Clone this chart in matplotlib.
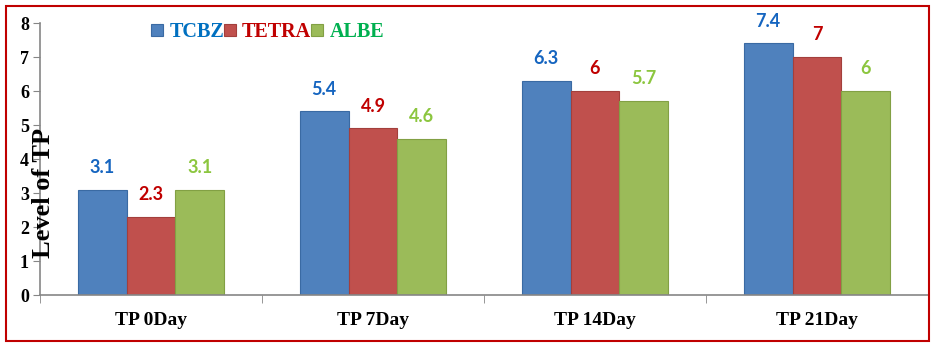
import matplotlib.pyplot as plt
from matplotlib.patches import Rectangle
import numpy as np

days = ['TP 0Day', 'TP 7Day', 'TP 14Day', 'TP 21Day']
tcbz = [3.1, 5.4, 6.3, 7.4]
tetra = [2.3, 4.9, 6, 7]
albe = [3.1, 4.6, 5.7, 6]
series = ['TCBZ', 'TETRA', 'ALBE']

bar_cols = ['#4F81BD', '#C0504D', '#9BBB59']
edge_cols = ['#3A6AA3', '#A33F3C', '#82A044']
txt_cols = ['#1565C0', '#C00000', '#8CC63F']
leg_cols = ['#0070C0', '#C00000', '#00B050']

fig = plt.figure(figsize=(9.35, 3.46), dpi=100)
ax = fig.add_axes([40/935, 1-295/346, 888/935, 272/346])

x = np.arange(len(days))
w = 0.22
data = [tcbz, tetra, albe]
for i in range(3):
    pos = x + (i-1)*w
    ax.bar(pos, data[i], w, color=bar_cols[i], edgecolor=edge_cols[i],
           linewidth=0.8, label=series[i])
    for p, v in zip(pos, data[i]):
        ax.annotate('%g' % v, (p, v), xytext=(0, 10), textcoords='offset points',
                    ha='center', va='bottom', color=txt_cols[i],
                    fontsize=13, fontweight='bold', family='Lato')

ax.set_xlim(-0.5, 3.5)
ax.set_ylim(0, 8)
ax.set_yticks(range(9))
ax.set_xticks(x)
ax.set_xticklabels(days, family='Liberation Serif', fontweight='bold', fontsize=14)
ax.set_xticks(np.arange(-0.5, 3.6, 1), minor=True)
ax.tick_params(axis='x', which='major', length=0, pad=12)
ax.tick_params(axis='x', which='minor', length=6, color='#868686', direction='out')
ax.tick_params(axis='y', length=5, color='#868686', pad=3)
for lab in ax.get_yticklabels():
    lab.set_family('Liberation Serif')
    lab.set_fontweight('bold')
    lab.set_fontsize(13)
for s in ['top', 'right']:
    ax.spines[s].set_visible(False)
for s in ['left', 'bottom']:
    ax.spines[s].set_color('#868686')
    ax.spines[s].set_linewidth(1.2)

fig.text(43/935, 1-193/346, 'Level of TP', rotation=90, ha='center', va='center',
         family='Liberation Serif', fontweight='bold', fontsize=19)

leg = fig.legend(loc='center left', bbox_to_anchor=(133/935, 1-32/346), ncol=3,
                 frameon=False, handlelength=0.6, handleheight=0.6,
                 handletextpad=0.3, columnspacing=0.0,
                 prop={'family': 'Liberation Serif', 'weight': 'bold', 'size': 14.5})
for t, c in zip(leg.get_texts(), leg_cols):
    t.set_color(c)

fig.patches.append(Rectangle((6/935, 5/346), 923/935, 335/346, fill=False,
                             edgecolor='#C00000', linewidth=1.5,
                             transform=fig.transFigure, figure=fig))

fig.savefig('out.png', dpi=100)
